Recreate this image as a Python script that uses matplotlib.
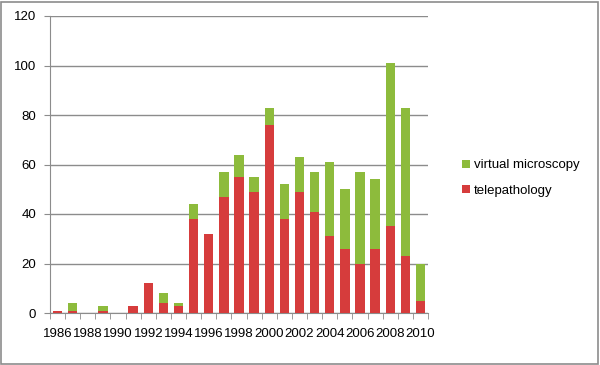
import numpy as np
import matplotlib.pyplot as plt
from matplotlib.patches import Rectangle

plt.rcParams['font.family'] = ['Liberation Sans', 'DejaVu Sans']

years = list(range(1986, 2011))
telepathology = [1, 1, 0, 1, 0, 3, 12, 4, 3, 38, 32, 47, 55, 49, 76,
                 38, 49, 41, 31, 26, 20, 26, 35, 23, 5]
virtual = [0, 3, 0, 2, 0, 0, 0, 4, 1, 6, 0, 10, 9, 6, 7,
           14, 14, 16, 30, 24, 37, 28, 66, 60, 15]

red = '#d63c3c'
green = '#8dbb3c'

fig = plt.figure(figsize=(6, 3.65), dpi=100)
ax = fig.add_axes([50 / 600, 1 - 313 / 365, 378 / 600, 297 / 365])

x = np.arange(len(years))
ax.bar(x, telepathology, width=0.62, color=red, label='telepathology', zorder=3)
ax.bar(x, virtual, width=0.62, bottom=telepathology, color=green,
       label='virtual microscopy', zorder=3)

ax.set_xlim(-0.5, len(years) - 0.5)
ax.set_ylim(0, 120)
ax.set_yticks(range(0, 121, 20))
ax.yaxis.grid(True, color='#8c8c8c', linewidth=1, zorder=0)

ax.set_xticks(x[::2])
ax.set_xticklabels([str(y) for y in years[::2]])
ax.set_xticks(np.arange(-0.5, len(years), 1), minor=True)
ax.tick_params(axis='x', which='major', length=0, pad=11, labelsize=9.5)
ax.tick_params(axis='x', which='minor', length=4, color='#8c8c8c')
ax.tick_params(axis='y', length=4, color='#8c8c8c', labelsize=9.5, pad=6)

for s in ['top', 'right']:
    ax.spines[s].set_visible(False)
for s in ['left', 'bottom']:
    ax.spines[s].set_color('#8c8c8c')

h, l = ax.get_legend_handles_labels()
fig.legend(h[::-1], l[::-1], loc='center left', bbox_to_anchor=(450 / 600, 1 - 178 / 365),
           frameon=False, fontsize=9.5, handlelength=0.6, handleheight=0.6,
           handletextpad=0.3, labelspacing=1.0)

fig.patches.append(Rectangle((1 / 600, 1 / 365), 597 / 600, 362 / 365,
                             transform=fig.transFigure, fill=False,
                             edgecolor='#8c8c8c', linewidth=1.2))

fig.savefig('out.png', dpi=100)
